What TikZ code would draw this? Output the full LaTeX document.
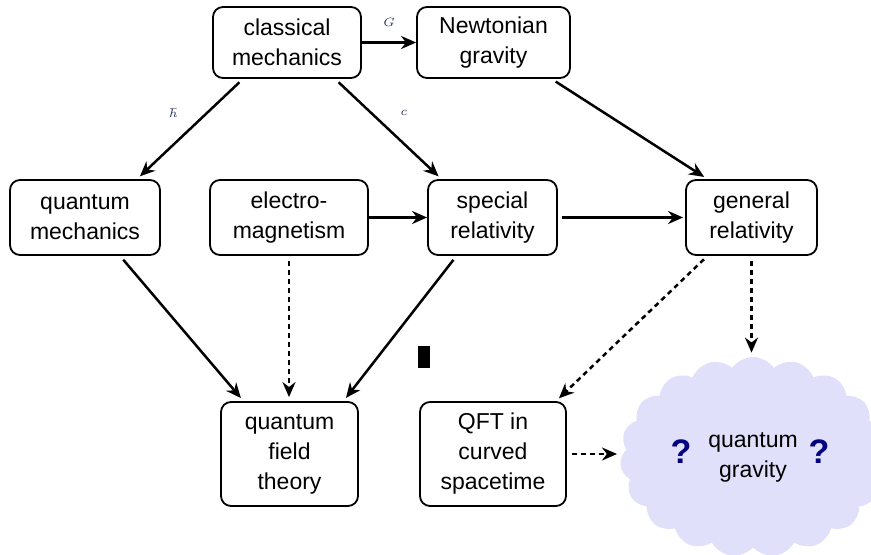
\documentclass[tikz,border=0pt]{standalone}
\usepackage{amsmath}
\usepackage{fontspec}
\setmainfont{Liberation Sans}
\usepackage{tikz}
\usetikzlibrary{positioning,arrows.meta,shapes.symbols}

\definecolor{cloudfill}{RGB}{224,224,250}
\definecolor{qmark}{RGB}{0,0,128}
\definecolor{labelink}{RGB}{40,50,90}

\tikzset{
  topic/.style={draw,line width=0.9pt,rounded corners=5pt,align=center,
    font=\fontsize{11.5}{15}\selectfont,inner sep=2pt},
  link/.style={-{Stealth[length=7.5pt,width=6.5pt]},line width=1.25pt,
    shorten <=2.5pt,shorten >=2pt},
  guess/.style={link,dash pattern=on 2.5pt off 2pt},
  const/.style={text=labelink,font=\fontsize{6}{7}\selectfont}
}

\begin{document}
\begin{tikzpicture}[x=0.5pt,y=-0.5pt]
\useasboundingbox (0,0) rectangle (871,555);
\node[topic,minimum width=74pt,minimum height=35.5pt] (cm) at (287,42.5) {classical\\mechanics};
\node[topic,minimum width=76.5pt,minimum height=35.5pt] (ng) at (493.5,42.5) {Newtonian\\gravity};
\node[topic,minimum width=75pt,minimum height=37.5pt] (qm) at (85,217.5) {quantum\\mechanics};
\node[topic,minimum width=79pt,minimum height=37.5pt] (em) at (289,217.5) {electro-\\magnetism};
\node[topic,minimum width=64.5pt,minimum height=37.5pt] (sr) at (492.5,217.5) {special\\relativity};
\node[topic,minimum width=65.5pt,minimum height=37.5pt] (gr) at (751.5,217.5) {general\\relativity};
\node[topic,minimum width=68.5pt,minimum height=52pt] (qft) at (289.5,454) {quantum\\field\\theory};
\node[topic,minimum width=73pt,minimum height=52pt] (cst) at (493,454) {QFT in\\curved\\spacetime};
\node[cloud,cloud puffs=19,cloud puff arc=110,aspect=1.35,fill=cloudfill,
  minimum width=133pt,minimum height=100pt,
  font=\fontsize{11.5}{15}\selectfont,align=center] (qg) at (753,457) {quantum\\gravity};
\node[text=qmark,font=\fontsize{17}{17}\selectfont\bfseries] (q1) at (681,452) {?};
\node[text=qmark,font=\fontsize{17}{17}\selectfont\bfseries] (q2) at (819,452) {?};

% stray mark
\fill (418,346) rectangle (430,368);

% what classical mechanics leads to
\draw[link,shorten <=0pt,shorten >=0pt] (cm) -- node[const,above=4pt] {$G$} (ng);
\draw[link] ([xshift=-22pt]cm.south) -- ([xshift=26pt]qm.north);
\draw[link] ([xshift=24pt]cm.south) -- ([xshift=-25.5pt]sr.north);
\draw[link] ([xshift=29pt]ng.south) -- ([xshift=-22pt]gr.north);
\node[const] (hbar) at (174,113) {$\hbar$};
\node[const] (cee) at (404,113) {$c$};

\draw[link,shorten <=0pt,shorten >=0pt] (em) -- (sr);
\draw[link,shorten <=2pt,shorten >=1pt] (sr) -- (gr);

\draw[link] ([xshift=17.5pt]qm.south) -- ([xshift=-23pt]qft.north);
\draw[guess] (em.south) -- (em.south |- qft.north);
\draw[link] ([xshift=-18pt]sr.south) -- ([xshift=27pt]qft.north);

% open questions
\draw[guess] ([xshift=-22pt]gr.south) -- ([xshift=31.5pt]cst.north);
\draw[guess] (gr.south) -- (gr.south |- qg.north);
\draw[guess] (cst.east) -- (cst.east -| qg.west);
\end{tikzpicture}
\end{document}
